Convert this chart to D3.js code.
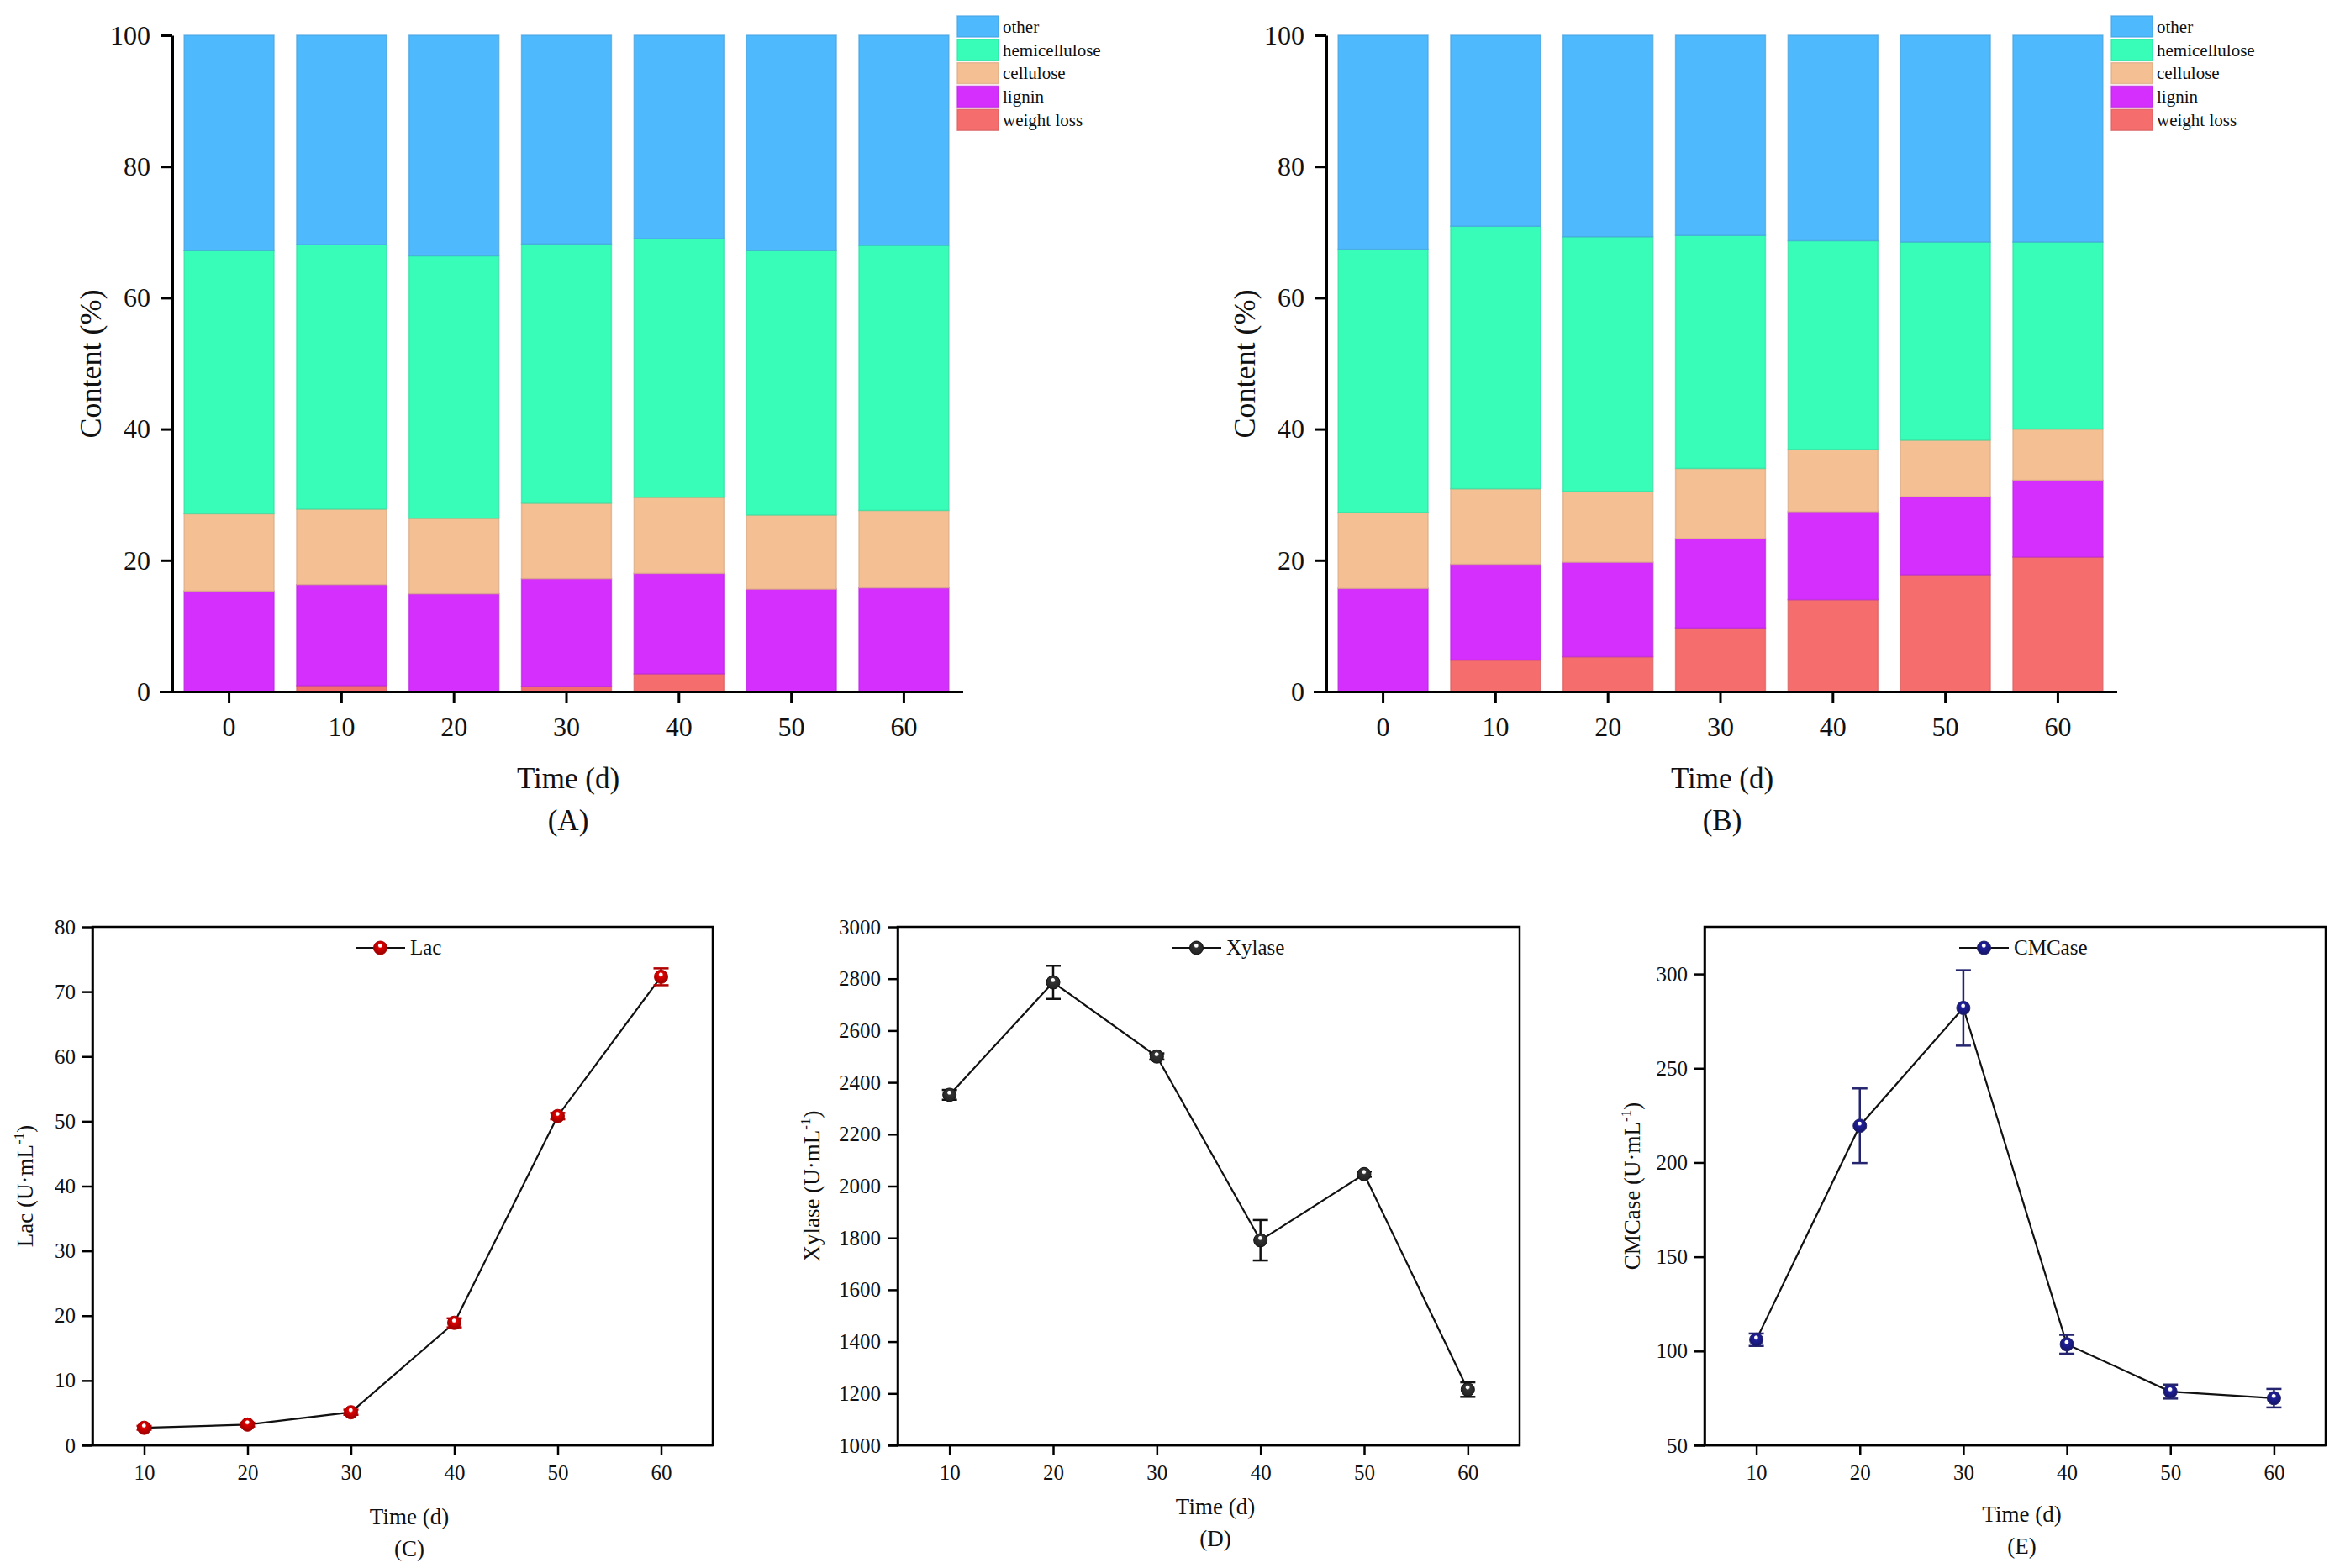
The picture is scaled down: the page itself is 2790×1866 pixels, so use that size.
<!DOCTYPE html>
<html>
<head>
<meta charset="utf-8">
<script src="https://cdn.jsdelivr.net/npm/d3@7"></script>
<style>
  html, body { margin: 0; padding: 0; background: #fff; }
  text { font-family: "Liberation Serif", "Times New Roman", serif; fill: #111; }
</style>
</head>
<body>
<script>
// ---------------- DATA ----------------
const days = [0, 10, 20, 30, 40, 50, 60];
const stackKeys = ["weight loss", "lignin", "cellulose", "hemicellulose", "other"];
const legendKeys = ["other", "hemicellulose", "cellulose", "lignin", "weight loss"];
const contentTicks = [0, 20, 40, 60, 80, 100];

// Panel A (%)
const weightLossA    = [0.0, 0.9, 0.0, 0.8, 2.7, 0.0, 0.0];
const ligninA        = [15.3, 15.4, 14.9, 16.4, 15.3, 15.6, 15.8];
const celluloseA     = [11.8, 11.5, 11.5, 11.5, 11.6, 11.3, 11.8];
const hemicelluloseA = [40.1, 40.3, 40.0, 39.5, 39.4, 40.3, 40.4];
const otherA         = [32.8, 31.9, 33.6, 31.8, 31.0, 32.8, 32.0];

// Panel B (%)
const weightLossB    = [0.0, 4.8, 5.3, 9.7, 14.0, 17.8, 20.5];
const ligninB        = [15.7, 14.6, 14.4, 13.6, 13.4, 11.9, 11.7];
const celluloseB     = [11.6, 11.5, 10.8, 10.7, 9.5, 8.6, 7.8];
const hemicelluloseB = [40.1, 40.0, 38.8, 35.5, 31.8, 30.2, 28.5];
const otherB         = [32.6, 29.1, 30.7, 30.5, 31.3, 31.5, 31.5];

// Enzyme activities
const enzymeDays   = [10, 20, 30, 40, 50, 60];
const dayTicks     = [10, 20, 30, 40, 50, 60];
const lacValues    = [2.7, 3.2, 5.1, 18.9, 50.8, 72.3];
const lacErrors    = [0.3, 0.3, 0.4, 0.7, 0.5, 1.3];
const lacTicks     = [0, 10, 20, 30, 40, 50, 60, 70, 80];
const xylaseValues = [2352, 2786, 2500, 1791, 2046, 1215];
const xylaseErrors = [19, 64, 12, 78, 10, 28];
const xylaseTicks  = [1000, 1200, 1400, 1600, 1800, 2000, 2200, 2400, 2600, 2800, 3000];
const cmcaseValues = [106, 219.5, 282, 103.6, 78.5, 75];
const cmcaseErrors = [3.3, 19.8, 20, 5, 3.7, 4.9];
const cmcaseTicks  = [50, 100, 150, 200, 250, 300];

// ---------------- STYLE ----------------
const colors = {
  "other": "#4FB9FD",
  "hemicellulose": "#37FDB9",
  "cellulose": "#F5BF94",
  "lignin": "#D42FFD",
  "weight loss": "#F66D6D"
};
const FONT = '"Liberation Serif", "Times New Roman", serif';
const fmt = d3.format("d");

const svg = d3.select("body").append("svg")
  .attr("width", 2790).attr("height", 1866)
  .style("display", "block");
svg.append("rect").attr("width", 2790).attr("height", 1866).attr("fill", "#fff");
const defs = svg.append("defs");

function styleAxis(g, fontSize, width) {
  g.attr("font-family", FONT);
  g.selectAll(".domain").attr("stroke", "#000").attr("stroke-width", width);
  g.selectAll(".tick line").attr("stroke", "#000").attr("stroke-width", width);
  g.selectAll(".tick text").attr("font-family", FONT).attr("font-size", fontSize).attr("fill", "#111");
}

// ---------------- BAR PANELS ----------------
function barPanel(ox, series, label) {
  const rows = days.map((d, i) => {
    const r = { day: d };
    stackKeys.forEach(k => r[k] = series[k][i]);
    return r;
  });
  const x = d3.scaleBand().domain(days).range([ox + 205, ox + 1143])
    .paddingInner(0.19).paddingOuter(0.1);
  const y = d3.scaleLinear().domain([0, 100]).range([823, 42]);
  const stacked = d3.stack().keys(stackKeys)(rows);

  const g = svg.append("g");
  g.selectAll("g.layer").data(stacked).join("g")
    .attr("class", "layer")
    .attr("fill", d => colors[d.key])
    .attr("stroke", d => d3.color(colors[d.key]).darker(0.35))
    .attr("stroke-width", 1.5)
    .selectAll("rect").data(d => d).join("rect")
    .attr("x", d => x(d.data.day) + 0.75)
    .attr("width", x.bandwidth() - 1.5)
    .attr("y", d => y(d[1]))
    .attr("height", d => Math.max(0, y(d[0]) - y(d[1])))
    .attr("stroke-opacity", d => (d[1] - d[0]) > 0.3 ? 0.7 : 0);

  const ya = g.append("g").attr("transform", `translate(${ox + 205},0)`)
    .call(d3.axisLeft(y).tickValues(contentTicks).tickFormat(fmt).tickSize(14).tickSizeOuter(0).tickPadding(12));
  styleAxis(ya, 32, 3);
  const xa = g.append("g").attr("transform", `translate(0,823)`)
    .call(d3.axisBottom(x).tickSize(14).tickSizeOuter(0).tickPadding(16));
  styleAxis(xa, 32, 3);
  xa.select(".domain").attr("d", `M${ox + 190},0.5H${ox + 1146}`);

  // legend
  const lg = g.append("g");
  legendKeys.forEach((k, i) => {
    lg.append("rect").attr("x", ox + 1139).attr("y", 19 + i * 27.8)
      .attr("width", 49).attr("height", 25)
      .attr("fill", colors[k]).attr("stroke", d3.color(colors[k]).darker(0.35)).attr("stroke-width", 1.5).attr("stroke-opacity", 0.7);
    lg.append("text").attr("x", ox + 1193).attr("y", 31.5 + i * 27.8)
      .attr("dy", "0.35em").attr("font-size", 21).text(k);
  });

  g.append("text").attr("transform", `translate(${ox + 107},433) rotate(-90)`)
    .attr("text-anchor", "middle").attr("dy", "0.35em").attr("font-size", 36)
    .text("Content (%)");
  g.append("text").attr("x", ox + 676).attr("y", 938).attr("text-anchor", "middle")
    .attr("font-size", 35).text("Time (d)");
  g.append("text").attr("x", ox + 676).attr("y", 988).attr("text-anchor", "middle")
    .attr("font-size", 35).text(label);
}

barPanel(0, {
  "weight loss": weightLossA, "lignin": ligninA, "cellulose": celluloseA,
  "hemicellulose": hemicelluloseA, "other": otherA
}, "(A)");
barPanel(1373, {
  "weight loss": weightLossB, "lignin": ligninB, "cellulose": celluloseB,
  "hemicellulose": hemicelluloseB, "other": otherB
}, "(B)");

// ---------------- LINE PANELS ----------------
function sphere(id, color) {
  const gr = defs.append("radialGradient").attr("id", id)
    .attr("cx", "50%").attr("cy", "45%").attr("r", "60%")
    .attr("fx", "48%").attr("fy", "30%");
  gr.append("stop").attr("offset", "0%").attr("stop-color", "#ffffff");
  gr.append("stop").attr("offset", "18%").attr("stop-color", "#ffffff");
  gr.append("stop").attr("offset", "30%").attr("stop-color", color);
  gr.append("stop").attr("offset", "100%").attr("stop-color", d3.color(color).darker(1.3));
}
sphere("gRed", "#E00000");
sphere("gBlack", "#333333");
sphere("gNavy", "#1F1F9A");

function linePanel(cfg) {
  const top = 1103, bottom = 1720;
  const x = d3.scaleLinear().domain([5, 65]).range([cfg.left, cfg.right]);
  const y = d3.scaleLinear().domain(cfg.yDomain).range([bottom, top]);
  const g = svg.append("g");

  g.append("rect").attr("x", cfg.left).attr("y", top)
    .attr("width", cfg.right - cfg.left).attr("height", bottom - top)
    .attr("fill", "none").attr("stroke", "#000").attr("stroke-width", 2.5);

  const ya = g.append("g").attr("transform", `translate(${cfg.left},0)`)
    .call(d3.axisLeft(y).tickValues(cfg.yTicks).tickFormat(fmt).tickSize(12).tickSizeOuter(0).tickPadding(8));
  styleAxis(ya, 25, 2.5);
  const xa = g.append("g").attr("transform", `translate(0,${bottom})`)
    .call(d3.axisBottom(x).tickValues(dayTicks).tickFormat(fmt).tickSize(12).tickSizeOuter(0).tickPadding(11));
  styleAxis(xa, 25, 2.5);
  xa.select(".domain").attr("d", `M${cfg.left - 12},0H${cfg.right}`);

  const pts = enzymeDays.map((d, i) => ({ d, v: cfg.values[i], e: cfg.errors[i] }));
  g.append("path").datum(pts)
    .attr("d", d3.line().x(p => x(p.d)).y(p => y(p.v)))
    .attr("fill", "none").attr("stroke", "#111").attr("stroke-width", 2.2);

  const eb = g.selectAll("g.err").data(pts).join("g").attr("class", "err")
    .attr("stroke", cfg.errColor).attr("stroke-width", 2.5);
  eb.append("line").attr("x1", p => x(p.d)).attr("x2", p => x(p.d))
    .attr("y1", p => y(p.v - p.e)).attr("y2", p => y(p.v + p.e));
  eb.append("line").attr("x1", p => x(p.d) - 9).attr("x2", p => x(p.d) + 9)
    .attr("y1", p => y(p.v + p.e)).attr("y2", p => y(p.v + p.e));
  eb.append("line").attr("x1", p => x(p.d) - 9).attr("x2", p => x(p.d) + 9)
    .attr("y1", p => y(p.v - p.e)).attr("y2", p => y(p.v - p.e));

  g.selectAll("circle.pt").data(pts).join("circle").attr("class", "pt")
    .attr("cx", p => x(p.d)).attr("cy", p => y(p.v)).attr("r", 8)
    .attr("fill", `url(#${cfg.grad})`).attr("stroke", cfg.errColor).attr("stroke-width", 1);

  // legend
  const lx = cfg.left + cfg.legendOffset, ly = 1128;
  g.append("line").attr("x1", lx).attr("x2", lx + 59).attr("y1", ly).attr("y2", ly)
    .attr("stroke", "#111").attr("stroke-width", 2.2);
  g.append("circle").attr("cx", lx + 29.5).attr("cy", ly).attr("r", 8)
    .attr("fill", `url(#${cfg.grad})`).attr("stroke", cfg.errColor).attr("stroke-width", 1);
  g.append("text").attr("x", lx + 65).attr("y", ly).attr("dy", "0.33em")
    .attr("font-size", 25).text(cfg.name);

  // y title with superscript
  const yt = g.append("text").attr("transform", `translate(${cfg.yTitleX},${(top + bottom) / 2}) rotate(-90)`)
    .attr("text-anchor", "middle").attr("dy", "0.35em").attr("font-size", 27);
  yt.append("tspan").text(cfg.name + " (U·mL");
  yt.append("tspan").attr("font-size", 17).attr("dy", -11).text("-1");
  yt.append("tspan").attr("dy", 11).text(")");

  const cx = (cfg.left + cfg.right) / 2 + 8;
  g.append("text").attr("x", cx).attr("y", cfg.timeY).attr("text-anchor", "middle")
    .attr("font-size", 27).text("Time (d)");
  g.append("text").attr("x", cx).attr("y", cfg.timeY + 38).attr("text-anchor", "middle")
    .attr("font-size", 27).text(cfg.label);
}

linePanel({ left: 110, right: 848, yDomain: [0, 80], yTicks: lacTicks,
  values: lacValues, errors: lacErrors, grad: "gRed", errColor: "#B00000",
  name: "Lac", legendOffset: 313, yTitleX: 30, timeY: 1814, label: "(C)" });
linePanel({ left: 1068, right: 1808, yDomain: [1000, 3000], yTicks: xylaseTicks,
  values: xylaseValues, errors: xylaseErrors, grad: "gBlack", errColor: "#111111",
  name: "Xylase", legendOffset: 326, yTitleX: 966, timeY: 1802, label: "(D)" });
linePanel({ left: 2028, right: 2767, yDomain: [50, 325], yTicks: cmcaseTicks,
  values: cmcaseValues, errors: cmcaseErrors, grad: "gNavy", errColor: "#25256F",
  name: "CMCase", legendOffset: 303, yTitleX: 1942, timeY: 1811, label: "(E)" });
</script>
</body>
</html>
